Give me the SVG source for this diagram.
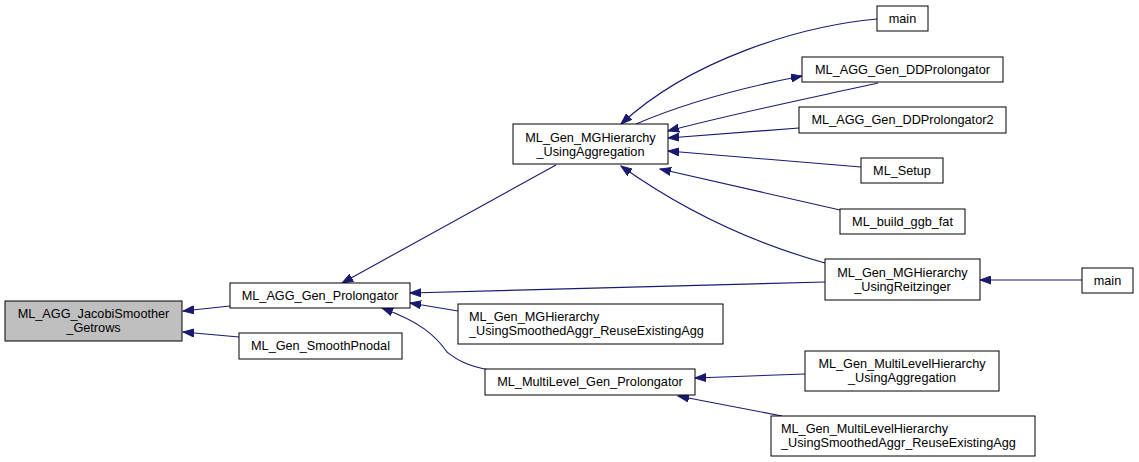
<svg xmlns="http://www.w3.org/2000/svg" width="1139" height="462" viewBox="0 0 1139 462">
<style>
.box{fill:#ffffff;stroke:#000000;stroke-width:1}
.hl{fill:#bfbfbf}
text{font-family:"Liberation Sans",Arial,sans-serif;font-size:12.7px;fill:#000000}
.c{text-anchor:middle}
.e{fill:none;stroke:#191970;stroke-width:1.1;marker-end:url(#ah)}
</style>
<defs>
<marker id="ah" markerUnits="userSpaceOnUse" markerWidth="12" markerHeight="9" refX="11" refY="4.5" orient="auto" viewBox="0 0 12 9">
<path d="M0,0.5 L11,4.5 L0,8.5 Z" fill="#191970" stroke="#191970" stroke-width="1"/>
</marker>
</defs>
<rect width="1139" height="462" fill="#ffffff"/>
<g id="edges">
<path class="e" d="M230,306 L183,311"/>
<path class="e" d="M239,337 L183,332"/>
<path class="e" d="M556,165 L342,283"/>
<path class="e" d="M877,19 C800,26 690,60 621,124"/>
<path class="e" d="M636,124 C680,105 740,88 802,76"/>
<path class="e" d="M878,83 C820,96 740,112 668,131"/>
<path class="e" d="M799,128 L668,138"/>
<path class="e" d="M861,167 L668,151"/>
<path class="e" d="M840,210 L660,169"/>
<path class="e" d="M825,263 C760,245 690,215 621,166"/>
<path class="e" d="M825,282 L410,293"/>
<path class="e" d="M458,311 L410,303"/>
<path class="e" d="M490,370 C465,366 455,358 447,352 C435,335 420,322 382,308"/>
<path class="e" d="M805,374 L695,378"/>
<path class="e" d="M782,416 L678,396"/>
<path class="e" d="M1082,280 L980,280"/>
</g>
<g id="n0"><rect class="box hl" x="5" y="301" width="177" height="40"/><text class="c" x="93.5" y="318">ML_AGG_JacobiSmoother</text><text class="c" x="93.5" y="332">_Getrows</text></g>
<g id="n1"><rect class="box" x="230" y="283" width="180" height="25"/><text class="c" x="320" y="299.5">ML_AGG_Gen_Prolongator</text></g>
<g id="n2"><rect class="box" x="239" y="333" width="163" height="26"/><text class="c" x="320.5" y="350">ML_Gen_SmoothPnodal</text></g>
<g id="n3"><rect class="box" x="513" y="124" width="155" height="40"/><text class="c" x="590.5" y="141.5">ML_Gen_MGHierarchy</text><text class="c" x="590.5" y="155.5">_UsingAggregation</text></g>
<g id="n4"><rect class="box" x="877" y="6" width="51" height="25"/><text class="c" x="902.5" y="22.5">main</text></g>
<g id="n5"><rect class="box" x="802" y="57" width="201" height="25"/><text class="c" x="902.5" y="73.5">ML_AGG_Gen_DDProlongator</text></g>
<g id="n6"><rect class="box" x="799" y="107" width="207" height="26"/><text class="c" x="902.5" y="124">ML_AGG_Gen_DDProlongator2</text></g>
<g id="n7"><rect class="box" x="861" y="158" width="82" height="25"/><text class="c" x="902" y="174.5">ML_Setup</text></g>
<g id="n8"><rect class="box" x="840" y="209" width="125" height="25"/><text class="c" x="902.5" y="225.5">ML_build_ggb_fat</text></g>
<g id="n9"><rect class="box" x="825" y="259" width="155" height="41"/><text class="c" x="902.5" y="276.5">ML_Gen_MGHierarchy</text><text class="c" x="902.5" y="290.5">_UsingReitzinger</text></g>
<g id="n10"><rect class="box" x="1082" y="268" width="51" height="25"/><text class="c" x="1107.5" y="284.5">main</text></g>
<g id="n11"><rect class="box" x="805" y="351" width="194" height="40"/><text class="c" x="902" y="367.5">ML_Gen_MultiLevelHierarchy</text><text class="c" x="902" y="381.5">_UsingAggregation</text></g>
<g id="n12"><rect class="box" x="771" y="416" width="264" height="40"/><text x="781" y="432.5">ML_Gen_MultiLevelHierarchy</text><text x="781" y="446.5">_UsingSmoothedAggr_ReuseExistingAgg</text></g>
<g id="n13"><rect class="box" x="458" y="304" width="265" height="40"/><text x="469" y="320.5">ML_Gen_MGHierarchy</text><text x="469" y="334.5">_UsingSmoothedAggr_ReuseExistingAgg</text></g>
<g id="n14"><rect class="box" x="485" y="369" width="210" height="26"/><text class="c" x="590" y="386">ML_MultiLevel_Gen_Prolongator</text></g>
</svg>
